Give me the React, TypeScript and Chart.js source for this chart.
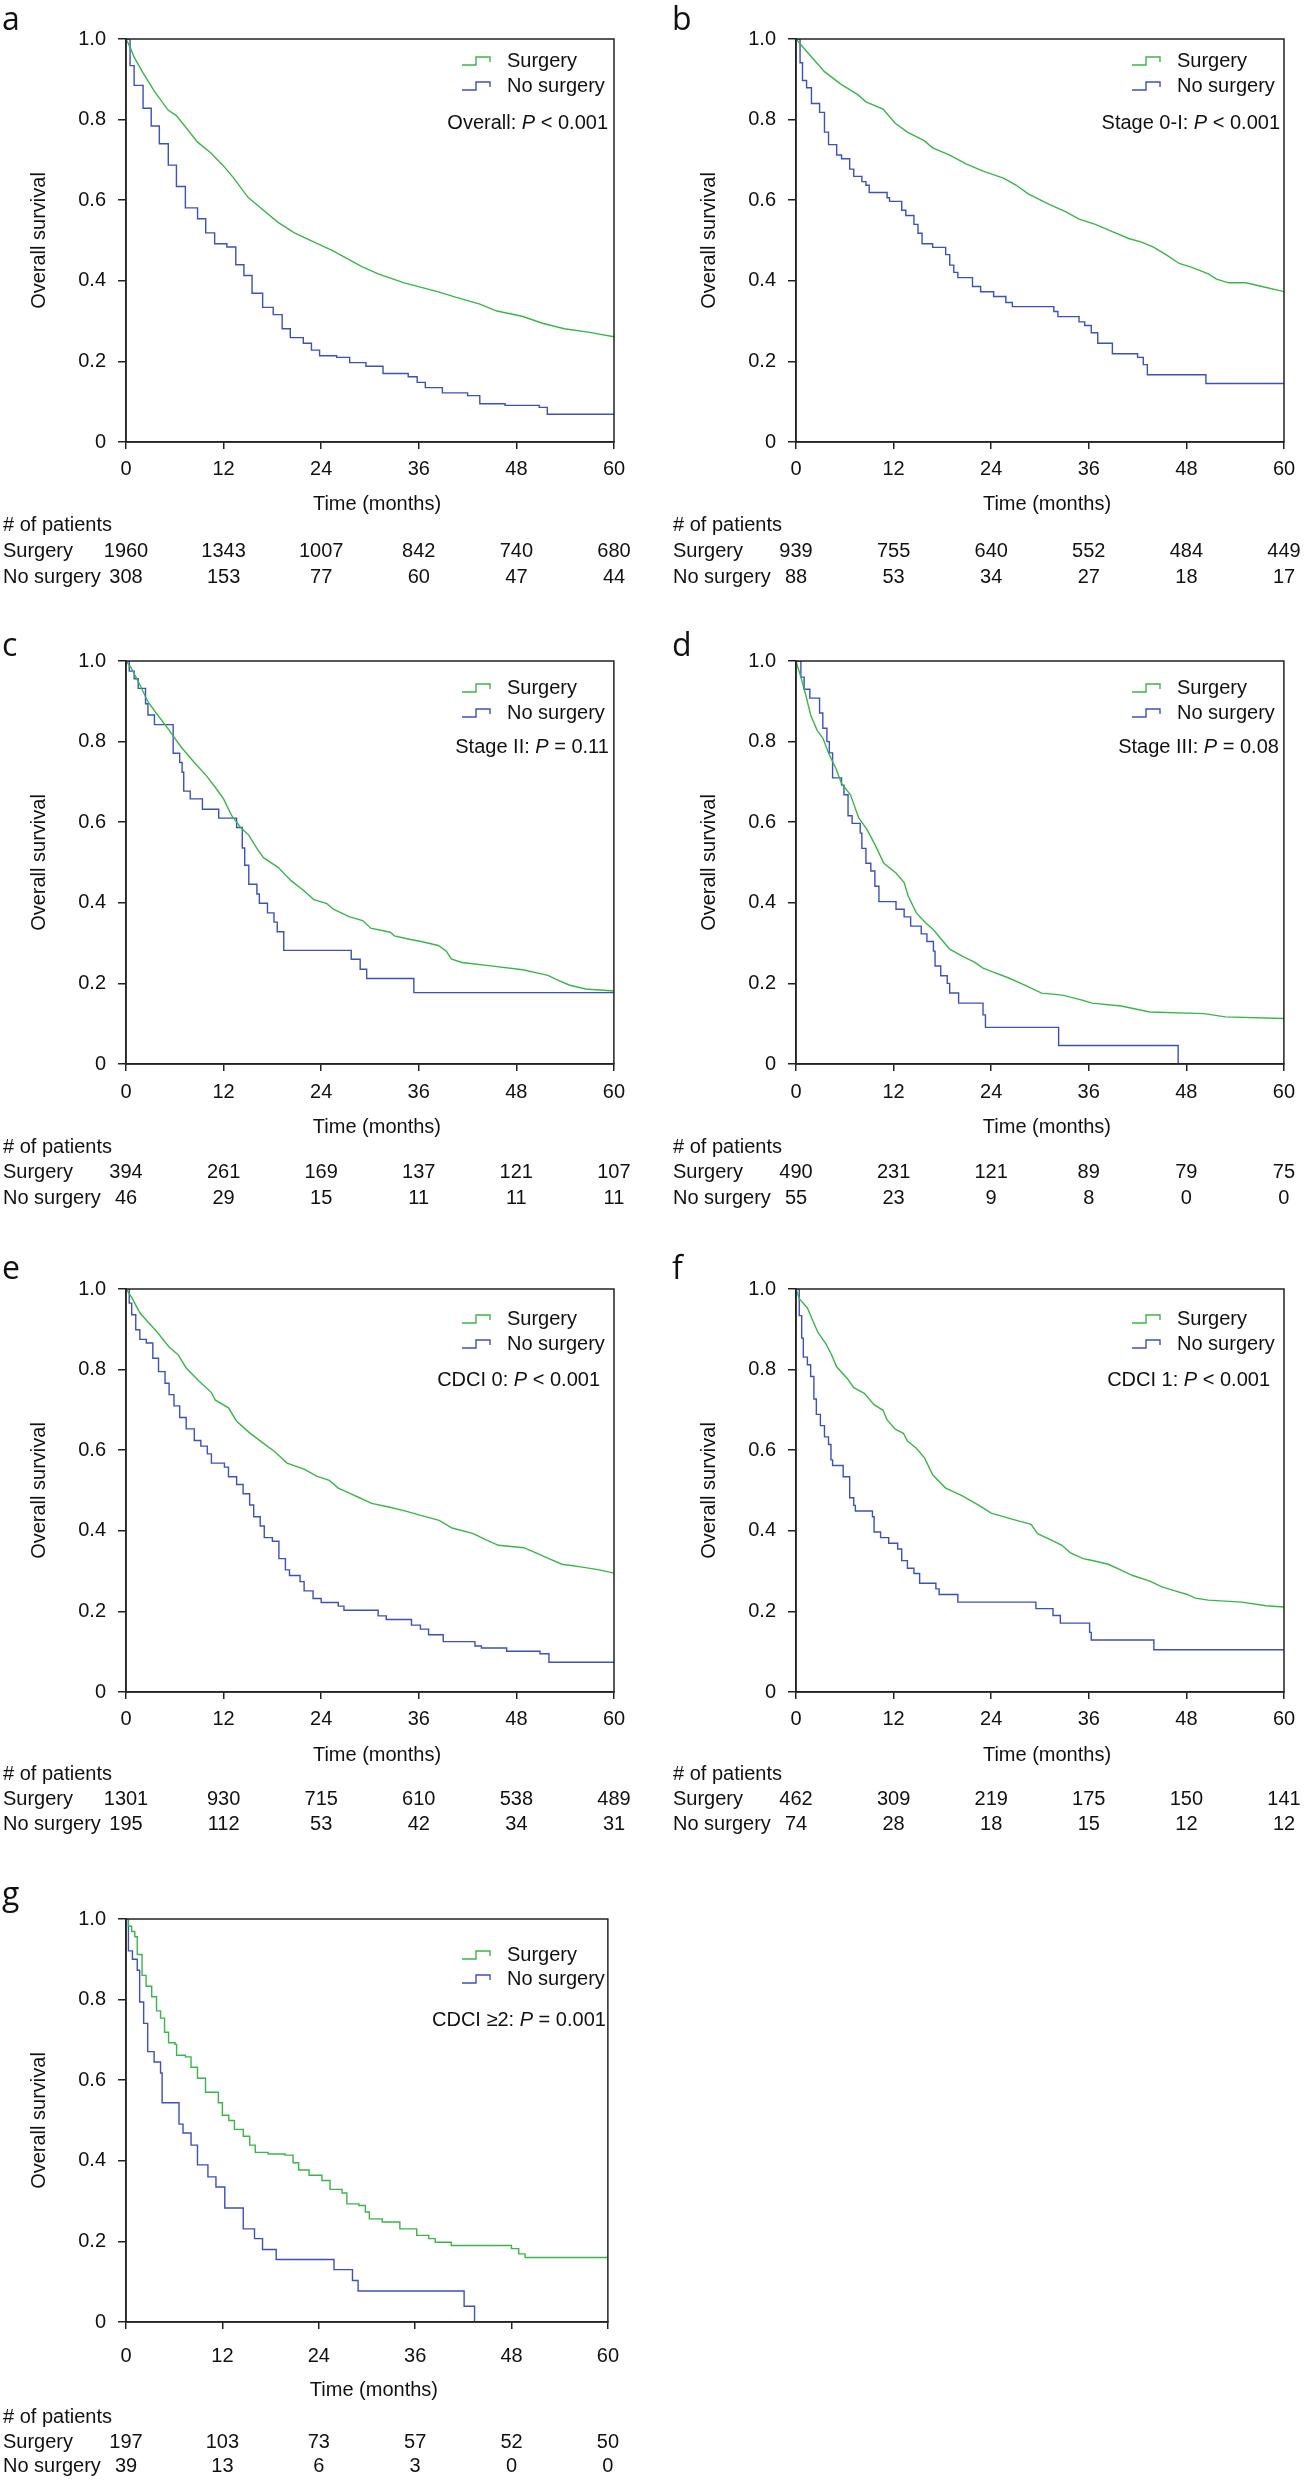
import React, { useEffect, useRef } from 'react';
import { Chart, registerables } from 'chart.js';

Chart.register(...registerables);

const GREEN = '#3bb54a';
const BLUE = '#3d51b8';
const AXIS = '#222222';
const TEXT = '#111111';
const FONT = '"Liberation Sans", Arial, sans-serif';

const X_TICKS = [0, 12, 24, 36, 48, 60];
const Y_TICKS = [0, 0.2, 0.4, 0.6, 0.8, 1.0];
const SERIES_NAMES = ['Surgery', 'No surgery'];

// ---- Panel a: Overall ----
const A_SURG_T = [0, 0.5, 1, 2.1, 3.5, 5.2, 6.2, 8.8, 10.4, 11.9, 13.2, 15, 16.6, 18.7, 20.7, 23, 25.4, 29, 31, 34.2, 38.3, 40.4, 43.5, 45.6, 48.7, 51.3, 53.9, 57, 60];
const A_SURG_S = [1, 0.98, 0.955, 0.916, 0.87, 0.823, 0.81, 0.744, 0.718, 0.687, 0.656, 0.607, 0.58, 0.545, 0.519, 0.497, 0.475, 0.435, 0.417, 0.395, 0.373, 0.36, 0.342, 0.325, 0.312, 0.294, 0.281, 0.272, 0.261];
const A_NO_T = [0, 0.5, 1.0, 2.1, 3.1, 4.1, 5.2, 6.2, 7.3, 8.8, 9.8, 10.9, 12.4, 13.5, 14.5, 15.5, 16.8, 18.1, 19.2, 20.2, 21.8, 22.8, 23.8, 25.9, 27.5, 29.5, 31.6, 34.7, 35.8, 36.8, 38.9, 42, 43.5, 46.6, 50.8, 51.8, 60];
const A_NO_S = [1, 0.934, 0.885, 0.828, 0.784, 0.74, 0.687, 0.634, 0.581, 0.554, 0.519, 0.492, 0.484, 0.44, 0.413, 0.369, 0.334, 0.316, 0.281, 0.259, 0.245, 0.228, 0.214, 0.21, 0.197, 0.188, 0.17, 0.162, 0.148, 0.135, 0.122, 0.115, 0.095, 0.091, 0.086, 0.069, 0.069];
const A_RISK_SURG = [1960, 1343, 1007, 842, 740, 680];
const A_RISK_NO = [308, 153, 77, 60, 47, 44];

// ---- Panel b: Stage 0-I ----
const B_SURG_T = [0, 1.4, 3.5, 5.5, 7.6, 8.6, 10.7, 12.2, 13.7, 15.8, 16.8, 18.9, 20.9, 23, 25.5, 27.1, 28.6, 31.2, 33.2, 34.8, 36.8, 38.9, 40.9, 42.5, 44, 45.5, 47.1, 48.6, 50.7, 51.7, 53.2, 55.3, 57.3, 60];
const B_SURG_S = [1, 0.967, 0.919, 0.888, 0.862, 0.844, 0.826, 0.791, 0.769, 0.747, 0.73, 0.712, 0.69, 0.672, 0.655, 0.637, 0.615, 0.589, 0.571, 0.553, 0.54, 0.522, 0.505, 0.496, 0.483, 0.465, 0.443, 0.434, 0.417, 0.404, 0.395, 0.395, 0.386, 0.373];
const B_NO_T = [0, 0.5, 0.8, 1.3, 1.9, 2.9, 3.5, 4.0, 5.0, 5.6, 6.6, 7.1, 8.1, 8.6, 9.0, 11.2, 11.5, 13.0, 13.5, 14.5, 15.0, 15.5, 16.8, 18.4, 18.9, 19.4, 19.9, 21.7, 22.7, 24.3, 25.8, 26.6, 31.7, 32.2, 34.8, 35.5, 36.3, 37.1, 38.9, 42.0, 42.7, 43.2, 50.4, 60];
const B_NO_S = [1, 0.941, 0.897, 0.879, 0.84, 0.818, 0.769, 0.738, 0.712, 0.703, 0.677, 0.659, 0.646, 0.637, 0.619, 0.606, 0.597, 0.575, 0.562, 0.54, 0.518, 0.492, 0.483, 0.465, 0.439, 0.421, 0.408, 0.386, 0.373, 0.361, 0.346, 0.336, 0.324, 0.311, 0.298, 0.289, 0.271, 0.245, 0.219, 0.21, 0.192, 0.167, 0.145, 0.145];
const B_RISK_SURG = [939, 755, 640, 552, 484, 449];
const B_RISK_NO = [88, 53, 34, 27, 18, 17];

// ---- Panel c: Stage II ----
const C_SURG_T = [0, 0.6, 1.7, 2.7, 3.7, 4.8, 5.8, 6.8, 8.4, 9.9, 11, 12, 13, 14.1, 15.1, 16.1, 16.9, 18.7, 20.3, 21.8, 23.1, 24.7, 25.5, 27.5, 29.1, 30.1, 32.5, 33, 35, 36.3, 38.4, 39.4, 40, 41.3, 45.1, 48.8, 50.8, 51.9, 52.9, 54.5, 56.5, 60];
const C_SURG_S = [1, 0.984, 0.941, 0.899, 0.871, 0.842, 0.814, 0.786, 0.748, 0.715, 0.686, 0.658, 0.616, 0.587, 0.568, 0.535, 0.512, 0.488, 0.455, 0.431, 0.408, 0.398, 0.384, 0.365, 0.356, 0.337, 0.327, 0.318, 0.309, 0.304, 0.294, 0.28, 0.261, 0.252, 0.243, 0.234, 0.225, 0.22, 0.21, 0.196, 0.186, 0.181];
const C_NO_T = [0, 0.4, 1.0, 1.5, 2.4, 2.7, 3.5, 5.8, 6.6, 6.9, 7.1, 7.9, 9.4, 11.4, 13.6, 14.3, 14.6, 15.1, 16.1, 16.4, 17.4, 18.2, 18.6, 19.4, 27.7, 28.8, 29.6, 35.4, 60];
const C_NO_S = [1, 0.975, 0.956, 0.932, 0.894, 0.866, 0.842, 0.771, 0.748, 0.724, 0.677, 0.658, 0.632, 0.61, 0.587, 0.536, 0.493, 0.446, 0.422, 0.399, 0.375, 0.352, 0.328, 0.282, 0.26, 0.235, 0.212, 0.177, 0.177];
const C_RISK_SURG = [394, 261, 169, 137, 121, 107];
const C_RISK_NO = [46, 29, 15, 11, 11, 11];

// ---- Panel d: Stage III ----
const D_SURG_T = [0, 0.6, 1.3, 1.8, 2.6, 3.3, 4.1, 4.9, 5.6, 6.7, 7.7, 8.7, 9.7, 10.8, 12.3, 13.3, 13.8, 14.8, 15.9, 16.9, 17.9, 18.9, 20.5, 22, 23, 24.1, 26.1, 28.2, 30.2, 32.8, 35.3, 36.4, 40, 43.5, 50.2, 52.8, 60];
const D_SURG_S = [1, 0.96, 0.908, 0.866, 0.828, 0.809, 0.767, 0.734, 0.696, 0.668, 0.611, 0.583, 0.545, 0.498, 0.474, 0.45, 0.417, 0.375, 0.351, 0.333, 0.309, 0.285, 0.267, 0.252, 0.238, 0.229, 0.214, 0.195, 0.176, 0.171, 0.158, 0.151, 0.144, 0.129, 0.125, 0.117, 0.113];
const D_NO_T = [0, 0.6, 1.0, 1.7, 2.9, 3.3, 3.8, 4.1, 4.5, 5.6, 5.9, 6.4, 6.9, 7.9, 8.1, 8.6, 9.2, 9.7, 10.2, 12.3, 13.3, 14.1, 15.4, 16.1, 16.9, 17.1, 17.8, 18.6, 18.9, 20.0, 23.0, 23.3, 32.3, 47.0];
const D_NO_S = [1, 0.96, 0.93, 0.908, 0.871, 0.833, 0.8, 0.772, 0.71, 0.692, 0.668, 0.616, 0.597, 0.573, 0.535, 0.498, 0.479, 0.441, 0.403, 0.384, 0.365, 0.342, 0.323, 0.304, 0.28, 0.243, 0.219, 0.2, 0.176, 0.151, 0.122, 0.091, 0.046, 0];
const D_RISK_SURG = [490, 231, 121, 89, 79, 75];
const D_RISK_NO = [55, 23, 9, 8, 0, 0];

// ---- Panel e: CDCI 0 ----
const E_SURG_T = [0, 0.7, 1.7, 2.7, 3.8, 5.3, 6.4, 7.4, 9, 10.5, 11, 12.6, 13.6, 15.2, 16.7, 18.3, 19.8, 21.9, 23.5, 25, 26.1, 27.6, 28.7, 30.2, 32.3, 34.4, 35.9, 38.5, 40.1, 42.7, 44.2, 45.8, 48.9, 50.4, 52, 53.6, 56.1, 58.2, 60];
const E_SURG_S = [1, 0.979, 0.941, 0.918, 0.894, 0.856, 0.837, 0.804, 0.771, 0.743, 0.724, 0.705, 0.672, 0.643, 0.62, 0.596, 0.568, 0.553, 0.535, 0.525, 0.506, 0.492, 0.482, 0.468, 0.459, 0.449, 0.44, 0.426, 0.407, 0.393, 0.378, 0.364, 0.358, 0.345, 0.331, 0.317, 0.31, 0.303, 0.295];
const E_NO_T = [0, 0.4, 0.7, 1.2, 1.7, 2.5, 3.3, 4.0, 4.8, 5.3, 5.9, 6.6, 7.4, 8.4, 9.2, 10.0, 10.5, 12.1, 12.6, 13.6, 14.4, 15.2, 15.7, 16.5, 17.0, 18.0, 18.8, 19.6, 20.1, 21.4, 21.9, 23.0, 24.0, 26.1, 26.8, 31.0, 32.0, 35.1, 36.2, 37.2, 39.0, 42.9, 43.7, 46.8, 50.9, 52.0, 60];
const E_NO_S = [1, 0.965, 0.936, 0.899, 0.875, 0.866, 0.828, 0.795, 0.766, 0.738, 0.71, 0.681, 0.653, 0.624, 0.61, 0.591, 0.568, 0.558, 0.534, 0.515, 0.492, 0.464, 0.435, 0.412, 0.383, 0.374, 0.331, 0.303, 0.289, 0.274, 0.251, 0.232, 0.222, 0.213, 0.203, 0.189, 0.18, 0.166, 0.156, 0.142, 0.125, 0.114, 0.109, 0.101, 0.095, 0.074, 0.074];
const E_RISK_SURG = [1301, 930, 715, 610, 538, 489];
const E_RISK_NO = [195, 112, 53, 42, 34, 31];

// ---- Panel f: CDCI 1 ----
const F_SURG_T = [0, 0.4, 1.4, 2.2, 2.7, 3.7, 4.3, 5, 6.3, 7.1, 8.4, 9.6, 10.7, 11.2, 12.2, 13.2, 13.7, 14.8, 15.8, 16.8, 18.4, 20.4, 22.5, 24, 25.5, 27.1, 28.9, 29.7, 31.2, 32.7, 33.7, 35.3, 36.3, 38.4, 39.9, 41.4, 43.5, 45, 46.6, 48.1, 49.1, 50.7, 54.8, 57.8, 60];
const F_SURG_S = [1, 0.976, 0.953, 0.915, 0.892, 0.863, 0.84, 0.807, 0.778, 0.755, 0.741, 0.713, 0.699, 0.675, 0.652, 0.642, 0.623, 0.605, 0.581, 0.539, 0.506, 0.487, 0.463, 0.444, 0.435, 0.426, 0.416, 0.393, 0.379, 0.364, 0.346, 0.331, 0.327, 0.317, 0.303, 0.289, 0.275, 0.261, 0.251, 0.242, 0.233, 0.228, 0.223, 0.214, 0.211];
const F_NO_T = [0, 0.4, 0.7, 0.9, 1.4, 1.8, 2.2, 2.5, 3.0, 3.5, 4.0, 4.3, 4.5, 5.8, 6.6, 7.1, 7.3, 9.4, 9.6, 10.4, 11.4, 12.5, 13.0, 13.7, 14.5, 15.2, 17.2, 17.6, 19.9, 29.5, 31.6, 32.5, 36.1, 36.3, 44.0, 60];
const F_NO_S = [1, 0.934, 0.878, 0.831, 0.812, 0.783, 0.727, 0.689, 0.661, 0.633, 0.614, 0.576, 0.562, 0.534, 0.482, 0.463, 0.449, 0.435, 0.397, 0.383, 0.369, 0.355, 0.326, 0.307, 0.294, 0.27, 0.256, 0.242, 0.223, 0.207, 0.19, 0.171, 0.148, 0.129, 0.105, 0.105];
const F_RISK_SURG = [462, 309, 219, 175, 150, 141];
const F_RISK_NO = [74, 28, 18, 15, 12, 12];

// ---- Panel g: CDCI >=2 ----
const G_SURG_T = [0, 0.3, 0.7, 1.1, 1.4, 2.0, 2.5, 3.2, 3.8, 4.3, 4.8, 5.3, 6.1, 6.3, 7.4, 8.1, 8.9, 9.9, 11.5, 12.0, 12.8, 13.5, 14.6, 15.4, 16.1, 17.7, 19.8, 20.8, 21.5, 22.8, 24.4, 25.4, 26.9, 27.5, 29.0, 29.8, 30.3, 31.9, 34.1, 36.2, 37.7, 38.5, 40.5, 48.0, 48.9, 49.7, 60];
const G_SURG_S = [1, 0.982, 0.969, 0.956, 0.912, 0.86, 0.833, 0.807, 0.772, 0.754, 0.719, 0.693, 0.689, 0.662, 0.658, 0.632, 0.605, 0.57, 0.544, 0.513, 0.5, 0.478, 0.461, 0.439, 0.421, 0.417, 0.414, 0.395, 0.377, 0.364, 0.351, 0.329, 0.32, 0.293, 0.289, 0.273, 0.256, 0.248, 0.231, 0.215, 0.207, 0.198, 0.19, 0.182, 0.169, 0.16, 0.16];
const G_NO_T = [0, 0.3, 0.8, 1.4, 1.7, 2.2, 2.7, 3.5, 4.3, 4.5, 6.6, 7.1, 8.1, 8.9, 10.2, 11.2, 12.3, 14.6, 16.0, 17.0, 18.7, 25.9, 28.2, 28.9, 42.1, 43.4];
const G_NO_S = [1, 0.921, 0.9, 0.873, 0.794, 0.741, 0.671, 0.645, 0.618, 0.544, 0.491, 0.469, 0.439, 0.39, 0.36, 0.335, 0.283, 0.231, 0.207, 0.18, 0.155, 0.13, 0.103, 0.077, 0.039, 0];
const G_RISK_SURG = [197, 103, 73, 57, 52, 50];
const G_RISK_NO = [39, 13, 6, 3, 0, 0];

// ---- Layout (positions only) ----
const CANVAS_W = 634;
const CANVAS_H = 600;
const ROW_TOP = [0, 622, 1250, 1880];
const COL_LEFT = [0, 670];
const PLOT_TOP = 39;
const PLOT_BOTTOM = 442;
const Y_AXIS_W = 126;
const LEGEND_DY = [[22, 47, 84], [27, 52, 86], [30, 55, 91], [36, 60, 101]];
const TABLE_DY = [[62, 83, 109, 135], [63, 83, 108, 134], [63, 82, 107, 132], [68, 95, 120, 144]];
const TICK_PAD = [8, 9, 8, 15];
const LETTER_Y = [30, 33.5, 28.5, 25];

type PanelDef = {
  letter: string; row: number; col: number;
  surgT: number[]; surgS: number[]; noT: number[]; noS: number[];
  riskS: number[]; riskN: number[];
  pLabel: string; pVal: string; pRight: number; surgStepped: boolean;
};

const PANELS: PanelDef[] = [
  { letter: 'a', row: 0, col: 0, surgT: A_SURG_T, surgS: A_SURG_S, noT: A_NO_T, noS: A_NO_S, riskS: A_RISK_SURG, riskN: A_RISK_NO, pLabel: 'Overall: ', pVal: ' < 0.001', pRight: 6, surgStepped: false },
  { letter: 'b', row: 0, col: 1, surgT: B_SURG_T, surgS: B_SURG_S, noT: B_NO_T, noS: B_NO_S, riskS: B_RISK_SURG, riskN: B_RISK_NO, pLabel: 'Stage 0-I: ', pVal: ' < 0.001', pRight: 4, surgStepped: false },
  { letter: 'c', row: 1, col: 0, surgT: C_SURG_T, surgS: C_SURG_S, noT: C_NO_T, noS: C_NO_S, riskS: C_RISK_SURG, riskN: C_RISK_NO, pLabel: 'Stage II: ', pVal: ' = 0.11', pRight: 5, surgStepped: false },
  { letter: 'd', row: 1, col: 1, surgT: D_SURG_T, surgS: D_SURG_S, noT: D_NO_T, noS: D_NO_S, riskS: D_RISK_SURG, riskN: D_RISK_NO, pLabel: 'Stage III: ', pVal: ' = 0.08', pRight: 5, surgStepped: false },
  { letter: 'e', row: 2, col: 0, surgT: E_SURG_T, surgS: E_SURG_S, noT: E_NO_T, noS: E_NO_S, riskS: E_RISK_SURG, riskN: E_RISK_NO, pLabel: 'CDCI 0: ', pVal: ' < 0.001', pRight: 14, surgStepped: false },
  { letter: 'f', row: 2, col: 1, surgT: F_SURG_T, surgS: F_SURG_S, noT: F_NO_T, noS: F_NO_S, riskS: F_RISK_SURG, riskN: F_RISK_NO, pLabel: 'CDCI 1: ', pVal: ' < 0.001', pRight: 14, surgStepped: false },
  { letter: 'g', row: 3, col: 0, surgT: G_SURG_T, surgS: G_SURG_S, noT: G_NO_T, noS: G_NO_S, riskS: G_RISK_SURG, riskN: G_RISK_NO, pLabel: 'CDCI \u22652: ', pVal: ' = 0.001', pRight: 2, surgStepped: true },
];

function toPoints(t: number[], s: number[]) {
  return t.map((x, i) => ({ x, y: s[i] }));
}

function drawLegendSymbol(ctx: CanvasRenderingContext2D, textX: number, cy: number, color: string) {
  const x0 = textX - 45;
  const x1 = x0 + 14;
  const x2 = x0 + 28;
  ctx.save();
  ctx.strokeStyle = color;
  ctx.lineWidth = 1.4;
  ctx.beginPath();
  ctx.moveTo(x0, cy + 4);
  ctx.lineTo(x1, cy + 4);
  ctx.lineTo(x1, cy - 4);
  ctx.lineTo(x2, cy - 4);
  ctx.lineTo(x2, cy + 1);
  ctx.stroke();
  ctx.restore();
}

function makeOverlay(p: PanelDef) {
  return {
    id: 'overlay_' + p.letter,
    afterDraw(chart: any) {
      const ctx: CanvasRenderingContext2D = chart.ctx;
      const { left, right, top, bottom } = chart.chartArea;
      const xs = chart.scales.x;
      ctx.save();
      // frame
      ctx.strokeStyle = AXIS;
      ctx.lineWidth = 1.5;
      ctx.strokeRect(left, top, right - left, bottom - top);

      ctx.fillStyle = TEXT;
      ctx.textBaseline = 'middle';
      const f20 = '20px ' + FONT;

      // legend
      const ld = LEGEND_DY[p.row];
      const textX = left + 381;
      ctx.font = f20;
      ctx.textAlign = 'left';
      ctx.fillText(SERIES_NAMES[0], textX, top + ld[0]);
      ctx.fillText(SERIES_NAMES[1], textX, top + ld[1]);
      drawLegendSymbol(ctx, textX, top + ld[0], GREEN);
      drawLegendSymbol(ctx, textX, top + ld[1], BLUE);

      // P value text (right aligned, italic P)
      const py = top + ld[2];
      ctx.font = f20;
      const wVal = ctx.measureText(p.pVal).width;
      const wLab = ctx.measureText(p.pLabel).width;
      ctx.font = 'italic 20px ' + FONT;
      const wP = ctx.measureText('P').width;
      let px = right - p.pRight - wVal - wP - wLab;
      ctx.font = f20;
      ctx.fillText(p.pLabel, px, py);
      px += wLab;
      ctx.font = 'italic 20px ' + FONT;
      ctx.fillText('P', px, py);
      px += wP;
      ctx.font = f20;
      ctx.fillText(p.pVal, px, py);

      // panel letter
      ctx.font = '32px "Open Sans", sans-serif';
      ctx.textBaseline = 'alphabetic';
      ctx.textAlign = 'left';
      ctx.fillText(p.letter, 2, LETTER_Y[p.row]);

      // y title
      ctx.font = f20;
      ctx.textBaseline = 'middle';
      ctx.save();
      ctx.translate(left - 87, (top + bottom) / 2);
      ctx.rotate(-Math.PI / 2);
      ctx.textAlign = 'center';
      ctx.fillText('Overall survival', 0, 0);
      ctx.restore();

      // x title
      const td = TABLE_DY[p.row];
      ctx.textAlign = 'center';
      ctx.fillText('Time (months)', (left + right) / 2 + 7, bottom + td[0]);

      // risk table
      ctx.textAlign = 'left';
      ctx.fillText('# of patients', 3, bottom + td[1]);
      ctx.fillText('Surgery', 3, bottom + td[2]);
      ctx.fillText('No surgery', 3, bottom + td[3]);
      ctx.textAlign = 'center';
      X_TICKS.forEach((t, i) => {
        const x = xs.getPixelForValue(t);
        ctx.fillText(String(p.riskS[i]), x, bottom + td[2]);
        ctx.fillText(String(p.riskN[i]), x, bottom + td[3]);
      });
      ctx.restore();
    },
  };
}

function Panel({ p }: { p: PanelDef }) {
  const ref = useRef<HTMLCanvasElement | null>(null);
  useEffect(() => {
    if (!ref.current) return;
    const tickFont = { family: FONT, size: 20 };
    const chart = new Chart(ref.current, {
      type: 'line',
      data: {
        datasets: [
          {
            label: SERIES_NAMES[0], data: toPoints(p.surgT, p.surgS), borderColor: GREEN, borderWidth: 1.4,
            pointRadius: 0, stepped: p.surgStepped ? 'before' : false, tension: 0, fill: false,
          },
          {
            label: SERIES_NAMES[1], data: toPoints(p.noT, p.noS), borderColor: BLUE, borderWidth: 1.4,
            pointRadius: 0, stepped: 'before', tension: 0, fill: false,
          },
        ],
      } as any,
      options: {
        responsive: false,
        animation: false,
        devicePixelRatio: 1,
        events: [],
        layout: { padding: { left: 0, right: CANVAS_W - 614, top: PLOT_TOP, bottom: 0 } },
        plugins: { legend: { display: false }, tooltip: { enabled: false }, title: { display: false } },
        scales: {
          x: {
            type: 'linear', min: 0, max: 60,
            afterFit: (s: any) => { s.height = CANVAS_H - PLOT_BOTTOM; },
            afterBuildTicks: (s: any) => { s.ticks = X_TICKS.map((v) => ({ value: v })); },
            ticks: { font: tickFont, color: TEXT, padding: TICK_PAD[p.row], maxRotation: 0, autoSkip: false, callback: (v: any) => String(v) },
            grid: { display: true, drawOnChartArea: false, drawTicks: true, tickLength: 7, color: AXIS, lineWidth: 1.5 },
            border: { display: true, color: AXIS, width: 1.5 },
          },
          y: {
            type: 'linear', min: 0, max: 1,
            afterFit: (s: any) => { s.width = Y_AXIS_W; },
            afterBuildTicks: (s: any) => { s.ticks = Y_TICKS.map((v) => ({ value: v })); },
            ticks: { font: tickFont, color: TEXT, padding: 12, callback: (v: any) => (Number(v) === 0 ? '0' : Number(v).toFixed(1)) },
            grid: { display: true, drawOnChartArea: false, drawTicks: true, tickLength: 8, color: AXIS, lineWidth: 1.5 },
            border: { display: true, color: AXIS, width: 1.5 },
          },
        },
      } as any,
      plugins: [makeOverlay(p)],
    });
    return () => chart.destroy();
  }, [p]);
  return (
    <canvas
      ref={ref}
      width={CANVAS_W}
      height={CANVAS_H}
      style={{ position: 'absolute', left: COL_LEFT[p.col], top: ROW_TOP[p.row], width: CANVAS_W, height: CANVAS_H }}
    />
  );
}

export default function App() {
  return (
    <div style={{ position: 'absolute', left: 0, top: 0, width: 1304, height: 2481, background: '#ffffff', overflow: 'hidden' }}>
      {PANELS.map((p) => (
        <Panel key={p.letter} p={p} />
      ))}
    </div>
  );
}
